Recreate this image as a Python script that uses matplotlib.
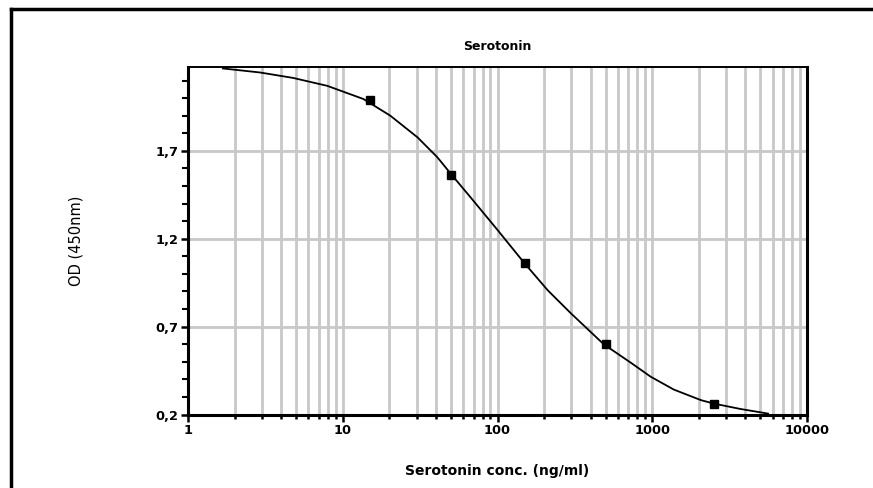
import matplotlib
matplotlib.use("Agg")
import matplotlib.pyplot as plt
from matplotlib.ticker import FixedLocator, FuncFormatter, LogLocator, NullFormatter
from matplotlib.lines import Line2D

# Standard points (concentration in ng/ml, optical density at 450 nm)
conc = [15, 50, 150, 500, 2500]
od = [1.99, 1.56, 1.06, 0.60, 0.26]

# Fitted standard curve, sampled along its length
curve_conc = [1.68, 2.92, 4.78, 7.94, 13.6, 20.3, 30.4, 40.9, 50.4, 66.9,
              100, 148, 211, 297, 485, 726, 977, 1377, 2060, 2500, 3740, 5040, 5600]
curve_od = [2.169, 2.146, 2.115, 2.07, 1.995, 1.90, 1.777, 1.663, 1.565, 1.436,
            1.250, 1.065, 0.907, 0.777, 0.600, 0.495, 0.415, 0.342, 0.282, 0.262,
            0.231, 0.212, 0.205]

y_major = [0.2, 0.7, 1.2, 1.7]
x_major = [1, 10, 100, 1000, 10000]

title = "Serotonin"
xlabel = "Serotonin conc. (ng/ml)"
ylabel = "OD (450nm)"

plt.rcParams['font.family'] = ['DejaVu Sans']

fig = plt.figure(figsize=(8.73, 4.88), dpi=100)
ax = fig.add_axes([0.2154, 0.1506, 0.7090, 0.7131])

ax.set_xscale('log')
ax.set_xlim(1, 10000)
ax.set_ylim(0.2, 2.18)

grid_c = '#c8c8c8'
ax.xaxis.set_major_locator(FixedLocator(x_major))
ax.xaxis.set_minor_locator(LogLocator(base=10, subs=range(2, 10)))
ax.xaxis.set_minor_formatter(NullFormatter())
ax.xaxis.set_major_formatter(FuncFormatter(lambda v, p: f"{int(round(v))}"))
ax.yaxis.set_major_locator(FixedLocator(y_major))
ax.yaxis.set_minor_locator(FixedLocator([0.2 + 0.1 * i for i in range(20)]))
ax.yaxis.set_major_formatter(FuncFormatter(lambda v, p: f"{v:.1f}".replace('.', ',')))

ax.grid(True, which='both', axis='x', color=grid_c, lw=2.0, zorder=0)
ax.grid(True, which='major', axis='y', color=grid_c, lw=2.0, zorder=0)
ax.set_axisbelow(True)

ax.tick_params(axis='both', which='major', direction='out', length=5, width=1.8,
               labelsize=9.3, pad=2)
ax.tick_params(axis='x', which='minor', direction='out', length=3, width=1.8)
ax.tick_params(axis='y', which='minor', direction='out', length=4, width=1.5)
for lab in ax.get_xticklabels() + ax.get_yticklabels():
    lab.set_fontweight('bold')

for side in ('left', 'bottom', 'right'):
    ax.spines[side].set_linewidth(2.2)
ax.spines['top'].set_linewidth(1.4)

ax.plot(curve_conc, curve_od, color='black', lw=1.3, zorder=3, clip_on=True)
ax.plot(conc, od, linestyle='none', marker='s', markersize=6.3, color='black', zorder=4)

ax.set_title(title, fontsize=9, fontweight='bold', pad=12)
ax.set_xlabel(xlabel, fontsize=10, fontweight='bold', labelpad=19)
ax.set_ylabel(ylabel, fontsize=10.5, labelpad=52)

# Outer frame (left and top edges)
fig.add_artist(Line2D([11 / 873, 11 / 873], [0, 1 - 9 / 488], transform=fig.transFigure,
                      color='black', lw=2.5))
fig.add_artist(Line2D([11 / 873, 1], [1 - 9 / 488, 1 - 9 / 488], transform=fig.transFigure,
                      color='black', lw=2.5))

fig.savefig("out.png", dpi=100)
